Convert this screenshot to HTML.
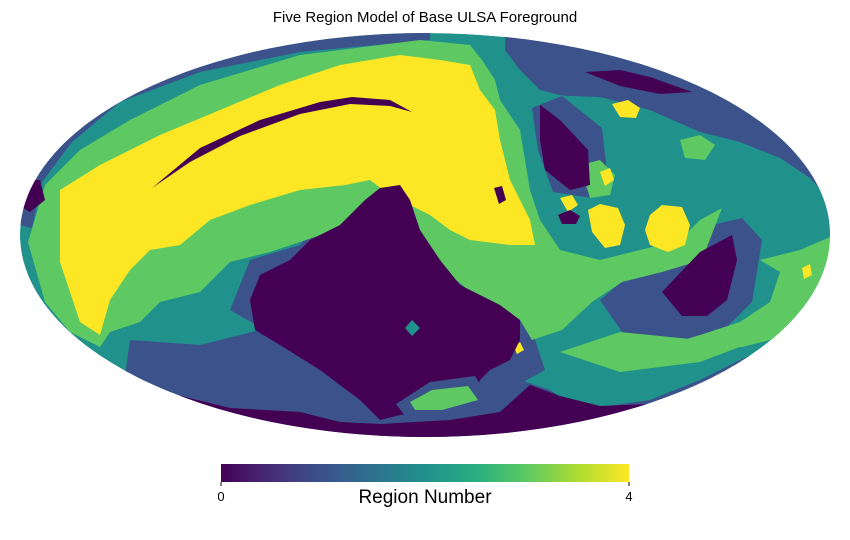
<!DOCTYPE html>
<html><head><meta charset="utf-8"><style>
body{margin:0;background:#fff;}
svg{display:block;font-family:"Liberation Sans",sans-serif;}
</style></head><body>
<svg id="chart" width="850" height="540" viewBox="0 0 850 540">
<defs>
<clipPath id="ell"><ellipse cx="425" cy="235" rx="405" ry="202"/></clipPath>
<linearGradient id="vir" x1="0" x2="1" y1="0" y2="0">
<stop offset="0" stop-color="#440154"/><stop offset="0.125" stop-color="#472d7b"/><stop offset="0.25" stop-color="#3b528b"/><stop offset="0.375" stop-color="#2c728e"/><stop offset="0.5" stop-color="#21918c"/><stop offset="0.625" stop-color="#28ae80"/><stop offset="0.75" stop-color="#5ec962"/><stop offset="0.875" stop-color="#addc30"/><stop offset="1" stop-color="#fde725"/>
</linearGradient>
</defs>
<text x="425" y="22" text-anchor="middle" font-size="15" fill="#000">Five Region Model of Base ULSA Foreground</text>
<g id="map" clip-path="url(#ell)">
<ellipse cx="425" cy="235" rx="405" ry="202" fill="#21918c"/>
</g>
<rect x="221" y="464" width="408" height="18" fill="url(#vir)"/>
<g id="cbticks"></g>
<text x="425" y="503" text-anchor="middle" font-size="19" fill="#000">Region Number</text>
</svg>
<script>
const regionColors = ["#440154","#3b528b","#21918c","#5ec962","#fde725"];
const tickValues = [0, 4];
const tickLabels = ["0", "4"];
const regionPolys = [
 [1,"20,225 30,170 70,120 140,80 250,45 430,30 430,40 300,52 200,72 120,102 72,142 42,182 32,228"],
 [1,"505,30 835,30 835,230 800,185 760,170 740,160 700,150 660,125 620,110 580,100 540,90 520,70 505,50"],
 [2,"545,95 600,97 650,110 700,132 740,142 780,158 810,178 835,205 835,240 800,212 760,195 720,185 680,170 640,150 600,130 560,115"],
 [1,"130,340 200,345 260,330 300,350 350,380 400,400 430,390 480,370 520,380 550,390 580,410 650,400 700,380 740,360 775,345 720,405 600,435 430,440 250,425 125,375"],
 [1,"230,310 250,260 300,245 320,220 360,200 380,182 410,192 440,228 460,268 485,298 530,325 545,370 505,392 450,402 400,392 300,350"],
 [1,"600,300 650,258 700,228 742,218 762,240 752,302 722,332 682,342 622,332"],
 [1,"532,108 562,96 602,128 607,172 592,198 553,192 538,150"],
 [3,"28,242 45,185 80,150 130,120 200,85 300,55 420,40 470,45 482,60 495,80 500,100 520,130 530,190 540,220 560,250 600,260 640,250 680,240 700,220 722,208 702,260 662,272 622,282 592,302 562,330 532,340 520,320 480,300 450,275 430,260 400,250 380,230 330,232 300,242 270,252 230,262 200,292 160,302 140,322 110,332 100,347 70,332 45,302"],
 [3,"760,260 800,250 835,235 830,280 812,312 782,337 742,347 700,352 660,347 700,335 740,322 770,302 780,272"],
 [3,"560,352 620,332 700,340 742,346 700,362 620,372"],
 [3,"580,165 600,160 615,175 610,195 590,198"],
 [3,"680,140 700,135 715,145 705,160 685,158"],
 [4,"60,190 100,165 160,135 220,110 280,85 340,65 400,55 440,60 470,65 480,90 495,110 500,140 510,180 520,200 530,220 535,245 510,245 470,240 450,230 430,215 410,205 390,195 370,180 345,185 300,190 250,205 210,220 180,245 150,250 130,270 110,300 100,335 80,322 70,292 60,262"],
 [4,"588,210 600,204 618,208 625,225 620,245 605,248 592,232"],
 [4,"650,215 662,205 682,207 690,225 685,245 668,252 650,245 645,230"],
 [4,"612,104 628,100 640,108 636,118 620,117"],
 [4,"600,172 610,168 614,180 605,186"],
 [4,"560,198 572,195 578,205 568,212"],
 [4,"802,268 810,264 812,275 804,279"],
 [4,"514,347 520,342 524,350 517,354"],
 [0,"152,188 200,148 260,120 320,102 352,97 390,100 412,112 390,106 350,104 300,114 240,136 190,162"],
 [0,"250,300 260,275 290,260 310,240 340,225 365,200 380,188 400,185 410,200 420,230 440,260 460,285 500,305 520,320 520,340 510,360 490,370 480,380 470,400 440,410 400,415 380,420 360,400 320,370 280,345 255,330"],
 [0,"165,392 230,408 300,412 340,422 380,424 450,420 500,412 530,385 560,396 600,406 650,404 685,398 600,432 430,442 250,430"],
 [0,"540,105 560,120 588,150 590,185 570,190 545,170 540,140"],
 [0,"662,292 700,252 732,235 737,260 727,300 707,316 682,316"],
 [0,"585,72 620,70 650,77 692,92 660,94 620,86"],
 [0,"18,180 40,180 45,200 30,212 18,205"],
 [0,"494,188 502,186 506,200 499,204"],
 [0,"558,215 570,210 580,216 576,224 562,224"],
 [2,"405,328 412,320 420,328 412,336"],
 [1,"396,404 430,382 475,376 490,400 445,416 405,416"],
 [3,"410,402 432,390 468,386 478,400 442,410 415,410"]
];
const NS = "http://www.w3.org/2000/svg";
const map = document.getElementById("map");
regionPolys.forEach(function(p){
  const el = document.createElementNS(NS, "polygon");
  el.setAttribute("points", p[1]);
  el.setAttribute("fill", regionColors[p[0]]);
  
  
  map.appendChild(el);
});
const cb = document.getElementById("cbticks");
const x0 = 221, x1 = 629, vmin = 0, vmax = 4;
function xs(v){ return x0 + (v - vmin) / (vmax - vmin) * (x1 - x0); }
tickValues.forEach(function(v, i){
  const t = document.createElementNS(NS, "line");
  t.setAttribute("x1", xs(v)); t.setAttribute("x2", xs(v));
  t.setAttribute("y1", 482); t.setAttribute("y2", 486);
  t.setAttribute("stroke", "#000");
  
  
  cb.appendChild(t);
  const l = document.createElementNS(NS, "text");
  l.setAttribute("x", xs(v)); l.setAttribute("y", 501);
  l.setAttribute("text-anchor", "middle"); l.setAttribute("font-size", "13");
  l.textContent = tickLabels[i];
  
  
  cb.appendChild(l);
});
</script>
</body></html>
